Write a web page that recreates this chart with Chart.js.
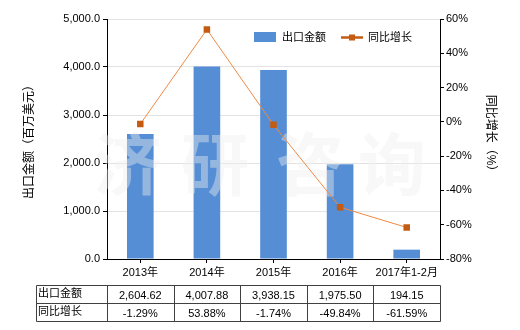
<!DOCTYPE html>
<html>
<head>
<meta charset="utf-8">
<script src="https://cdn.jsdelivr.net/npm/chart.js@4/dist/chart.umd.min.js"></script>
<style>
html,body{margin:0;padding:0;background:#fff;}
#wrap{width:520px;height:330px;position:relative;}
</style>
</head>
<body>
<div id="wrap"><canvas id="c" width="520" height="330"></canvas></div>
<script>
const categories = ['2013年', '2014年', '2015年', '2016年', '2017年1-2月'];
const exportValues = [2604.62, 4007.88, 3938.15, 1975.50, 194.15];
const growthValues = [-1.29, 53.88, -1.74, -49.84, -61.59];
const exportLabels = ['2,604.62', '4,007.88', '3,938.15', '1,975.50', '194.15'];
const growthLabels = ['-1.29%', '53.88%', '-1.74%', '-49.84%', '-61.59%'];
const seriesNames = ['出口金额', '同比增长'];
const leftTitle = '出口金额（百万美元）';
const rightTitle = '同比增长（%）';
const watermark = ['济', '研', '咨', '询'];

const FONT = "'Liberation Sans', 'Noto Sans CJK SC', sans-serif";
const BAR = '#558ED5';
const LINE = '#EE8A45';
const MARK = '#C55A11';

const watermarkPlugin = {
  id: 'wm',
  afterDatasetDraw(chart, args) {
    if (args.index !== 0) return;
    const ctx = chart.ctx;
    const a = chart.chartArea;
    ctx.save();
    ctx.font = "bold 68px 'Noto Sans CJK SC', sans-serif";
    ctx.fillStyle = 'rgba(238,238,238,0.42)';
    ctx.textAlign = 'center';
    ctx.textBaseline = 'middle';
    const xs = [128, 215, 310, 392];
    watermark.forEach((ch, i) => ctx.fillText(ch, xs[i], 164));
    ctx.restore();
  }
};

const extrasPlugin = {
  id: 'extras',
  afterDraw(chart) {
    const ctx = chart.ctx;
    const a = chart.chartArea;
    ctx.save();
    // axis titles
    ctx.fillStyle = '#000';
    ctx.font = "12px " + FONT;
    ctx.textAlign = 'center';
    ctx.textBaseline = 'middle';
    const cy = (a.top + a.bottom) / 2;
    ctx.save();
    ctx.translate(30, cy);
    ctx.rotate(-Math.PI / 2);
    ctx.fillText(leftTitle, 0, 0);
    ctx.restore();
    ctx.save();
    ctx.translate(490, cy - 3);
    ctx.rotate(Math.PI / 2);
    ctx.fillText(rightTitle, 0, 0);
    ctx.restore();

    // legend
    ctx.font = "11px " + FONT;
    ctx.textAlign = 'left';
    ctx.fillStyle = BAR;
    ctx.fillRect(254, 32, 22, 10);
    ctx.fillStyle = '#000';
    ctx.fillText(seriesNames[0], 282, 37.5);
    ctx.strokeStyle = MARK;
    ctx.lineWidth = 2.5;
    ctx.beginPath();
    ctx.moveTo(341, 37.5);
    ctx.lineTo(363, 37.5);
    ctx.stroke();
    ctx.fillStyle = MARK;
    ctx.fillRect(349, 34.5, 6, 6);
    ctx.fillStyle = '#000';
    ctx.fillText(seriesNames[1], 368, 37.5);

    // table
    const n = categories.length;
    const w = (a.right - a.left) / n;
    const tx0 = 36.5;
    const rows = [285.5, 303.5, 321.5];
    const cols = [tx0];
    for (let i = 0; i <= n; i++) cols.push(Math.round(a.left + i * w) + 0.5);
    ctx.strokeStyle = '#404040';
    ctx.lineWidth = 1;
    ctx.beginPath();
    rows.forEach(y => { ctx.moveTo(tx0, y); ctx.lineTo(cols[cols.length - 1], y); });
    cols.forEach(x => { ctx.moveTo(x, rows[0]); ctx.lineTo(x, rows[2]); });
    ctx.stroke();
    ctx.fillStyle = '#000';
    ctx.font = "11px " + FONT;
    ctx.textAlign = 'left';
    ctx.fillText(seriesNames[0], 38, 294);
    ctx.fillText(seriesNames[1], 38, 312);
    ctx.textAlign = 'center';
    for (let i = 0; i < n; i++) {
      const cx = a.left + (i + 0.5) * w;
      ctx.fillText(exportLabels[i], cx, 295.5);
      ctx.fillText(growthLabels[i], cx, 313.5);
    }
    ctx.restore();
  }
};

new Chart(document.getElementById('c'), {
  data: {
    labels: categories,
    datasets: [
      {
        type: 'bar',
        label: seriesNames[0],
        data: exportValues,
        backgroundColor: BAR,
        yAxisID: 'y',
        barPercentage: 0.8,
        categoryPercentage: 0.5,
        order: 2
      },
      {
        type: 'line',
        label: seriesNames[1],
        data: growthValues,
        borderColor: LINE,
        borderWidth: 1,
        pointStyle: 'rect',
        pointRadius: 4.6,
        pointBackgroundColor: MARK,
        pointBorderColor: MARK,
        pointBorderWidth: 0,
        yAxisID: 'y1',
        tension: 0,
        order: 1
      }
    ]
  },
  options: {
    responsive: false,
    animation: false,
    events: [],
    layout: { padding: { top: 19, left: 0, right: 0, bottom: 0 } },
    plugins: { legend: { display: false }, tooltip: { enabled: false } },
    scales: {
      x: {
        offset: true,
        grid: { display: true, drawOnChartArea: false, offset: false, tickLength: 4, tickColor: '#000' },
        border: { display: true, color: '#000', width: 1 },
        ticks: { color: '#000', font: { family: FONT, size: 11 }, padding: 3, maxRotation: 0, autoSkip: false },
        afterFit(s) { s.height = 71; }
      },
      y: {
        position: 'left',
        min: 0, max: 5000,
        ticks: {
          stepSize: 1000, color: '#000', padding: 3,
          font: { family: FONT, size: 11 },
          callback: v => v.toLocaleString('en-US', { minimumFractionDigits: 1, maximumFractionDigits: 1 })
        },
        grid: { color: '#E3E3E3', tickColor: '#000', tickLength: 4 },
        border: { display: true, color: '#000', width: 1 },
        afterFit(s) { s.width = 107; }
      },
      y1: {
        position: 'right',
        min: -80, max: 60,
        ticks: {
          stepSize: 20, color: '#000', padding: 2,
          font: { family: FONT, size: 11 },
          callback: v => v + '%'
        },
        grid: { drawOnChartArea: false, tickColor: '#000', tickLength: 4 },
        border: { display: true, color: '#000', width: 1 },
        afterFit(s) { s.width = 80; }
      }
    }
  },
  plugins: [watermarkPlugin, extrasPlugin]
});
</script>
</body>
</html>
